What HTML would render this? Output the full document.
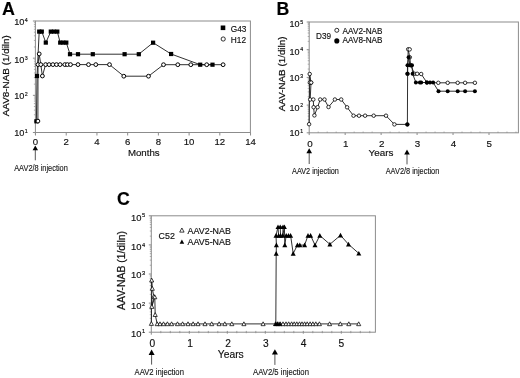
<!DOCTYPE html>
<html><head><meta charset="utf-8"><style>
html,body{margin:0;padding:0;background:#fff;}
body{width:520px;height:378px;overflow:hidden;}
svg{display:block;filter:blur(0.35px);font-family:"Liberation Sans",sans-serif;}
text{stroke:#111;stroke-width:0.16px;}
text.r{stroke-width:0.22px;}
text.s{stroke-width:0.13px;}
</style></head><body>
<svg width="520" height="378" viewBox="0 0 520 378">
<rect width="520" height="378" fill="#fff"/>
<text x="1.90" y="14.90" font-size="17.9" text-anchor="start" font-weight="bold" fill="#000" >A</text>
<rect x="35.40" y="21.00" width="215.00" height="111.50" fill="none" stroke="#8c8c8c" stroke-width="1"/>
<line x1="35.40" y1="132.50" x2="35.40" y2="135.00" stroke="#8c8c8c" stroke-width="1.0"/>
<line x1="32.90" y1="132.50" x2="35.40" y2="132.50" stroke="#8c8c8c" stroke-width="1.0"/>
<line x1="33.90" y1="121.31" x2="35.40" y2="121.31" stroke="#8c8c8c" stroke-width="0.7"/>
<line x1="33.90" y1="114.77" x2="35.40" y2="114.77" stroke="#8c8c8c" stroke-width="0.7"/>
<line x1="33.90" y1="110.12" x2="35.40" y2="110.12" stroke="#8c8c8c" stroke-width="0.7"/>
<line x1="33.90" y1="106.52" x2="35.40" y2="106.52" stroke="#8c8c8c" stroke-width="0.7"/>
<line x1="33.90" y1="103.58" x2="35.40" y2="103.58" stroke="#8c8c8c" stroke-width="0.7"/>
<line x1="33.90" y1="101.09" x2="35.40" y2="101.09" stroke="#8c8c8c" stroke-width="0.7"/>
<line x1="33.90" y1="98.94" x2="35.40" y2="98.94" stroke="#8c8c8c" stroke-width="0.7"/>
<line x1="33.90" y1="97.03" x2="35.40" y2="97.03" stroke="#8c8c8c" stroke-width="0.7"/>
<line x1="32.90" y1="95.33" x2="35.40" y2="95.33" stroke="#8c8c8c" stroke-width="1.0"/>
<line x1="33.90" y1="84.15" x2="35.40" y2="84.15" stroke="#8c8c8c" stroke-width="0.7"/>
<line x1="33.90" y1="77.60" x2="35.40" y2="77.60" stroke="#8c8c8c" stroke-width="0.7"/>
<line x1="33.90" y1="72.96" x2="35.40" y2="72.96" stroke="#8c8c8c" stroke-width="0.7"/>
<line x1="33.90" y1="69.35" x2="35.40" y2="69.35" stroke="#8c8c8c" stroke-width="0.7"/>
<line x1="33.90" y1="66.41" x2="35.40" y2="66.41" stroke="#8c8c8c" stroke-width="0.7"/>
<line x1="33.90" y1="63.92" x2="35.40" y2="63.92" stroke="#8c8c8c" stroke-width="0.7"/>
<line x1="33.90" y1="61.77" x2="35.40" y2="61.77" stroke="#8c8c8c" stroke-width="0.7"/>
<line x1="33.90" y1="59.87" x2="35.40" y2="59.87" stroke="#8c8c8c" stroke-width="0.7"/>
<line x1="32.90" y1="58.17" x2="35.40" y2="58.17" stroke="#8c8c8c" stroke-width="1.0"/>
<line x1="33.90" y1="46.98" x2="35.40" y2="46.98" stroke="#8c8c8c" stroke-width="0.7"/>
<line x1="33.90" y1="40.43" x2="35.40" y2="40.43" stroke="#8c8c8c" stroke-width="0.7"/>
<line x1="33.90" y1="35.79" x2="35.40" y2="35.79" stroke="#8c8c8c" stroke-width="0.7"/>
<line x1="33.90" y1="32.19" x2="35.40" y2="32.19" stroke="#8c8c8c" stroke-width="0.7"/>
<line x1="33.90" y1="29.25" x2="35.40" y2="29.25" stroke="#8c8c8c" stroke-width="0.7"/>
<line x1="33.90" y1="26.76" x2="35.40" y2="26.76" stroke="#8c8c8c" stroke-width="0.7"/>
<line x1="33.90" y1="24.60" x2="35.40" y2="24.60" stroke="#8c8c8c" stroke-width="0.7"/>
<line x1="33.90" y1="22.70" x2="35.40" y2="22.70" stroke="#8c8c8c" stroke-width="0.7"/>
<line x1="32.90" y1="21.00" x2="35.40" y2="21.00" stroke="#8c8c8c" stroke-width="1.0"/>
<line x1="35.50" y1="132.50" x2="35.50" y2="135.50" stroke="#8c8c8c" stroke-width="1.0"/>
<text x="35.50" y="145.30" font-size="9.6" text-anchor="middle" font-weight="normal" fill="#111" >0</text>
<line x1="66.22" y1="132.50" x2="66.22" y2="135.50" stroke="#8c8c8c" stroke-width="1.0"/>
<text x="66.22" y="145.30" font-size="9.6" text-anchor="middle" font-weight="normal" fill="#111" >2</text>
<line x1="96.94" y1="132.50" x2="96.94" y2="135.50" stroke="#8c8c8c" stroke-width="1.0"/>
<text x="96.94" y="145.30" font-size="9.6" text-anchor="middle" font-weight="normal" fill="#111" >4</text>
<line x1="127.66" y1="132.50" x2="127.66" y2="135.50" stroke="#8c8c8c" stroke-width="1.0"/>
<text x="127.66" y="145.30" font-size="9.6" text-anchor="middle" font-weight="normal" fill="#111" >6</text>
<line x1="158.38" y1="132.50" x2="158.38" y2="135.50" stroke="#8c8c8c" stroke-width="1.0"/>
<text x="158.38" y="145.30" font-size="9.6" text-anchor="middle" font-weight="normal" fill="#111" >8</text>
<line x1="189.10" y1="132.50" x2="189.10" y2="135.50" stroke="#8c8c8c" stroke-width="1.0"/>
<text x="189.10" y="145.30" font-size="9.6" text-anchor="middle" font-weight="normal" fill="#111" >10</text>
<line x1="219.82" y1="132.50" x2="219.82" y2="135.50" stroke="#8c8c8c" stroke-width="1.0"/>
<text x="219.82" y="145.30" font-size="9.6" text-anchor="middle" font-weight="normal" fill="#111" >12</text>
<line x1="250.54" y1="132.50" x2="250.54" y2="135.50" stroke="#8c8c8c" stroke-width="1.0"/>
<text x="250.54" y="145.30" font-size="9.6" text-anchor="middle" font-weight="normal" fill="#111" >14</text>
<text x="24.36" y="136.19" font-size="9.2" text-anchor="end" fill="#111">10</text>
<text x="27.77" y="132.70" font-size="5.3" text-anchor="end" fill="#111">1</text>
<text x="24.36" y="99.34" font-size="9.2" text-anchor="end" fill="#111">10</text>
<text x="27.77" y="95.85" font-size="5.3" text-anchor="end" fill="#111">2</text>
<text x="24.36" y="63.49" font-size="9.2" text-anchor="end" fill="#111">10</text>
<text x="27.77" y="60.00" font-size="5.3" text-anchor="end" fill="#111">3</text>
<text x="24.36" y="25.14" font-size="9.2" text-anchor="end" fill="#111">10</text>
<text x="27.77" y="21.65" font-size="5.3" text-anchor="end" fill="#111">4</text>
<text x="143.80" y="156.00" font-size="9.7" text-anchor="middle" font-weight="normal" fill="#111" >Months</text>
<text transform="translate(9.0,75.7) rotate(-90)" class="r" font-size="9.9" text-anchor="middle" fill="#111">AAV8-NAB (1/diln)</text>
<line x1="35.30" y1="149.40" x2="35.30" y2="160.30" stroke="#555" stroke-width="1.0"/>
<polygon points="35.30,145.40 38.00,150.20 32.60,150.20" fill="#000"/>
<text transform="translate(41.00,170.60) scale(0.89,1)" class="s" font-size="8.31" text-anchor="middle" fill="#1a1a1a">AAV2/8 injection</text>
<polyline points="36.40,121.30 37.00,76.00 39.20,31.60 41.80,31.60 45.80,42.60 50.80,31.60 54.00,31.60 57.30,31.60 60.20,42.60 63.30,42.60 66.30,42.60 70.00,54.20 78.00,54.20 92.80,54.20 124.60,54.20 138.80,54.20 153.10,42.70 171.10,54.00 200.20,64.70 212.50,64.70" fill="none" stroke="#1a1a1a" stroke-width="0.9" stroke-linejoin="round"/>
<polyline points="37.90,121.10 38.00,64.60 39.20,53.90 40.80,64.60 42.40,76.00 45.60,64.60 49.10,64.60 52.90,64.60 56.50,64.60 60.10,64.60 64.80,64.60 67.40,64.60 70.50,64.60 78.00,64.60 88.50,64.60 95.80,64.60 109.50,64.60 123.80,76.20 148.50,76.20 163.50,64.70 177.80,64.70 190.80,64.70 206.70,64.70 223.10,64.70" fill="none" stroke="#1a1a1a" stroke-width="0.9" stroke-linejoin="round"/>
<rect x="34.30" y="119.20" width="4.2" height="4.2" fill="#000"/>
<rect x="34.90" y="73.90" width="4.2" height="4.2" fill="#000"/>
<rect x="37.10" y="29.50" width="4.2" height="4.2" fill="#000"/>
<rect x="39.70" y="29.50" width="4.2" height="4.2" fill="#000"/>
<rect x="43.70" y="40.50" width="4.2" height="4.2" fill="#000"/>
<rect x="48.70" y="29.50" width="4.2" height="4.2" fill="#000"/>
<rect x="51.90" y="29.50" width="4.2" height="4.2" fill="#000"/>
<rect x="55.20" y="29.50" width="4.2" height="4.2" fill="#000"/>
<rect x="58.10" y="40.50" width="4.2" height="4.2" fill="#000"/>
<rect x="61.20" y="40.50" width="4.2" height="4.2" fill="#000"/>
<rect x="64.20" y="40.50" width="4.2" height="4.2" fill="#000"/>
<rect x="67.90" y="52.10" width="4.2" height="4.2" fill="#000"/>
<rect x="75.90" y="52.10" width="4.2" height="4.2" fill="#000"/>
<rect x="90.70" y="52.10" width="4.2" height="4.2" fill="#000"/>
<rect x="122.50" y="52.10" width="4.2" height="4.2" fill="#000"/>
<rect x="136.70" y="52.10" width="4.2" height="4.2" fill="#000"/>
<rect x="151.00" y="40.60" width="4.2" height="4.2" fill="#000"/>
<rect x="169.00" y="51.90" width="4.2" height="4.2" fill="#000"/>
<rect x="198.10" y="62.60" width="4.2" height="4.2" fill="#000"/>
<rect x="210.40" y="62.60" width="4.2" height="4.2" fill="#000"/>
<circle cx="37.90" cy="121.10" r="1.9" fill="#fff" stroke="#000" stroke-width="1.0"/>
<circle cx="38.00" cy="64.60" r="1.9" fill="#fff" stroke="#000" stroke-width="1.0"/>
<circle cx="39.20" cy="53.90" r="1.9" fill="#fff" stroke="#000" stroke-width="1.0"/>
<circle cx="40.80" cy="64.60" r="1.9" fill="#fff" stroke="#000" stroke-width="1.0"/>
<circle cx="42.40" cy="76.00" r="1.9" fill="#fff" stroke="#000" stroke-width="1.0"/>
<circle cx="45.60" cy="64.60" r="1.9" fill="#fff" stroke="#000" stroke-width="1.0"/>
<circle cx="49.10" cy="64.60" r="1.9" fill="#fff" stroke="#000" stroke-width="1.0"/>
<circle cx="52.90" cy="64.60" r="1.9" fill="#fff" stroke="#000" stroke-width="1.0"/>
<circle cx="56.50" cy="64.60" r="1.9" fill="#fff" stroke="#000" stroke-width="1.0"/>
<circle cx="60.10" cy="64.60" r="1.9" fill="#fff" stroke="#000" stroke-width="1.0"/>
<circle cx="64.80" cy="64.60" r="1.9" fill="#fff" stroke="#000" stroke-width="1.0"/>
<circle cx="67.40" cy="64.60" r="1.9" fill="#fff" stroke="#000" stroke-width="1.0"/>
<circle cx="70.50" cy="64.60" r="1.9" fill="#fff" stroke="#000" stroke-width="1.0"/>
<circle cx="78.00" cy="64.60" r="1.9" fill="#fff" stroke="#000" stroke-width="1.0"/>
<circle cx="88.50" cy="64.60" r="1.9" fill="#fff" stroke="#000" stroke-width="1.0"/>
<circle cx="95.80" cy="64.60" r="1.9" fill="#fff" stroke="#000" stroke-width="1.0"/>
<circle cx="109.50" cy="64.60" r="1.9" fill="#fff" stroke="#000" stroke-width="1.0"/>
<circle cx="123.80" cy="76.20" r="1.9" fill="#fff" stroke="#000" stroke-width="1.0"/>
<circle cx="148.50" cy="76.20" r="1.9" fill="#fff" stroke="#000" stroke-width="1.0"/>
<circle cx="163.50" cy="64.70" r="1.9" fill="#fff" stroke="#000" stroke-width="1.0"/>
<circle cx="177.80" cy="64.70" r="1.9" fill="#fff" stroke="#000" stroke-width="1.0"/>
<circle cx="190.80" cy="64.70" r="1.9" fill="#fff" stroke="#000" stroke-width="1.0"/>
<circle cx="206.70" cy="64.70" r="1.9" fill="#fff" stroke="#000" stroke-width="1.0"/>
<circle cx="223.10" cy="64.70" r="1.9" fill="#fff" stroke="#000" stroke-width="1.0"/>
<rect x="220.70" y="25.50" width="4.6" height="4.6" fill="#000"/>
<text transform="translate(230.80,31.90) scale(0.95,1)" font-size="8.74" fill="#111">G43</text>
<circle cx="223.20" cy="39.00" r="2.1" fill="#fff" stroke="#000" stroke-width="0.8"/>
<text transform="translate(230.80,43.40) scale(0.95,1)" font-size="8.74" fill="#111">H12</text>
<text x="276.50" y="14.90" font-size="17.7" text-anchor="start" font-weight="bold" fill="#000" >B</text>
<rect x="309.20" y="22.00" width="209.20" height="110.80" fill="none" stroke="#8c8c8c" stroke-width="1"/>
<line x1="309.20" y1="132.80" x2="309.20" y2="135.10" stroke="#8c8c8c" stroke-width="1.0"/>
<line x1="306.70" y1="132.80" x2="309.20" y2="132.80" stroke="#8c8c8c" stroke-width="1.0"/>
<line x1="307.70" y1="124.46" x2="309.20" y2="124.46" stroke="#8c8c8c" stroke-width="0.7"/>
<line x1="307.70" y1="119.58" x2="309.20" y2="119.58" stroke="#8c8c8c" stroke-width="0.7"/>
<line x1="307.70" y1="116.12" x2="309.20" y2="116.12" stroke="#8c8c8c" stroke-width="0.7"/>
<line x1="307.70" y1="113.44" x2="309.20" y2="113.44" stroke="#8c8c8c" stroke-width="0.7"/>
<line x1="307.70" y1="111.25" x2="309.20" y2="111.25" stroke="#8c8c8c" stroke-width="0.7"/>
<line x1="307.70" y1="109.39" x2="309.20" y2="109.39" stroke="#8c8c8c" stroke-width="0.7"/>
<line x1="307.70" y1="107.78" x2="309.20" y2="107.78" stroke="#8c8c8c" stroke-width="0.7"/>
<line x1="307.70" y1="106.37" x2="309.20" y2="106.37" stroke="#8c8c8c" stroke-width="0.7"/>
<line x1="306.70" y1="105.10" x2="309.20" y2="105.10" stroke="#8c8c8c" stroke-width="1.0"/>
<line x1="307.70" y1="96.76" x2="309.20" y2="96.76" stroke="#8c8c8c" stroke-width="0.7"/>
<line x1="307.70" y1="91.88" x2="309.20" y2="91.88" stroke="#8c8c8c" stroke-width="0.7"/>
<line x1="307.70" y1="88.42" x2="309.20" y2="88.42" stroke="#8c8c8c" stroke-width="0.7"/>
<line x1="307.70" y1="85.74" x2="309.20" y2="85.74" stroke="#8c8c8c" stroke-width="0.7"/>
<line x1="307.70" y1="83.55" x2="309.20" y2="83.55" stroke="#8c8c8c" stroke-width="0.7"/>
<line x1="307.70" y1="81.69" x2="309.20" y2="81.69" stroke="#8c8c8c" stroke-width="0.7"/>
<line x1="307.70" y1="80.08" x2="309.20" y2="80.08" stroke="#8c8c8c" stroke-width="0.7"/>
<line x1="307.70" y1="78.67" x2="309.20" y2="78.67" stroke="#8c8c8c" stroke-width="0.7"/>
<line x1="306.70" y1="77.40" x2="309.20" y2="77.40" stroke="#8c8c8c" stroke-width="1.0"/>
<line x1="307.70" y1="69.06" x2="309.20" y2="69.06" stroke="#8c8c8c" stroke-width="0.7"/>
<line x1="307.70" y1="64.18" x2="309.20" y2="64.18" stroke="#8c8c8c" stroke-width="0.7"/>
<line x1="307.70" y1="60.72" x2="309.20" y2="60.72" stroke="#8c8c8c" stroke-width="0.7"/>
<line x1="307.70" y1="58.04" x2="309.20" y2="58.04" stroke="#8c8c8c" stroke-width="0.7"/>
<line x1="307.70" y1="55.85" x2="309.20" y2="55.85" stroke="#8c8c8c" stroke-width="0.7"/>
<line x1="307.70" y1="53.99" x2="309.20" y2="53.99" stroke="#8c8c8c" stroke-width="0.7"/>
<line x1="307.70" y1="52.38" x2="309.20" y2="52.38" stroke="#8c8c8c" stroke-width="0.7"/>
<line x1="307.70" y1="50.97" x2="309.20" y2="50.97" stroke="#8c8c8c" stroke-width="0.7"/>
<line x1="306.70" y1="49.70" x2="309.20" y2="49.70" stroke="#8c8c8c" stroke-width="1.0"/>
<line x1="307.70" y1="41.36" x2="309.20" y2="41.36" stroke="#8c8c8c" stroke-width="0.7"/>
<line x1="307.70" y1="36.48" x2="309.20" y2="36.48" stroke="#8c8c8c" stroke-width="0.7"/>
<line x1="307.70" y1="33.02" x2="309.20" y2="33.02" stroke="#8c8c8c" stroke-width="0.7"/>
<line x1="307.70" y1="30.34" x2="309.20" y2="30.34" stroke="#8c8c8c" stroke-width="0.7"/>
<line x1="307.70" y1="28.15" x2="309.20" y2="28.15" stroke="#8c8c8c" stroke-width="0.7"/>
<line x1="307.70" y1="26.29" x2="309.20" y2="26.29" stroke="#8c8c8c" stroke-width="0.7"/>
<line x1="307.70" y1="24.68" x2="309.20" y2="24.68" stroke="#8c8c8c" stroke-width="0.7"/>
<line x1="307.70" y1="23.27" x2="309.20" y2="23.27" stroke="#8c8c8c" stroke-width="0.7"/>
<line x1="306.70" y1="22.00" x2="309.20" y2="22.00" stroke="#8c8c8c" stroke-width="1.0"/>
<line x1="318.19" y1="131.60" x2="318.19" y2="132.80" stroke="#8c8c8c" stroke-width="0.8"/>
<line x1="327.18" y1="131.60" x2="327.18" y2="132.80" stroke="#8c8c8c" stroke-width="0.8"/>
<line x1="336.17" y1="131.60" x2="336.17" y2="132.80" stroke="#8c8c8c" stroke-width="0.8"/>
<line x1="345.16" y1="132.80" x2="345.16" y2="135.00" stroke="#8c8c8c" stroke-width="1.0"/>
<line x1="354.15" y1="131.60" x2="354.15" y2="132.80" stroke="#8c8c8c" stroke-width="0.8"/>
<line x1="363.14" y1="131.60" x2="363.14" y2="132.80" stroke="#8c8c8c" stroke-width="0.8"/>
<line x1="372.13" y1="131.60" x2="372.13" y2="132.80" stroke="#8c8c8c" stroke-width="0.8"/>
<line x1="381.12" y1="132.80" x2="381.12" y2="135.00" stroke="#8c8c8c" stroke-width="1.0"/>
<line x1="390.11" y1="131.60" x2="390.11" y2="132.80" stroke="#8c8c8c" stroke-width="0.8"/>
<line x1="399.10" y1="131.60" x2="399.10" y2="132.80" stroke="#8c8c8c" stroke-width="0.8"/>
<line x1="408.09" y1="131.60" x2="408.09" y2="132.80" stroke="#8c8c8c" stroke-width="0.8"/>
<line x1="417.08" y1="132.80" x2="417.08" y2="135.00" stroke="#8c8c8c" stroke-width="1.0"/>
<line x1="426.07" y1="131.60" x2="426.07" y2="132.80" stroke="#8c8c8c" stroke-width="0.8"/>
<line x1="435.06" y1="131.60" x2="435.06" y2="132.80" stroke="#8c8c8c" stroke-width="0.8"/>
<line x1="444.05" y1="131.60" x2="444.05" y2="132.80" stroke="#8c8c8c" stroke-width="0.8"/>
<line x1="453.04" y1="132.80" x2="453.04" y2="135.00" stroke="#8c8c8c" stroke-width="1.0"/>
<line x1="462.03" y1="131.60" x2="462.03" y2="132.80" stroke="#8c8c8c" stroke-width="0.8"/>
<line x1="471.02" y1="131.60" x2="471.02" y2="132.80" stroke="#8c8c8c" stroke-width="0.8"/>
<line x1="480.01" y1="131.60" x2="480.01" y2="132.80" stroke="#8c8c8c" stroke-width="0.8"/>
<line x1="489.00" y1="132.80" x2="489.00" y2="135.00" stroke="#8c8c8c" stroke-width="1.0"/>
<line x1="497.99" y1="131.60" x2="497.99" y2="132.80" stroke="#8c8c8c" stroke-width="0.8"/>
<line x1="506.98" y1="131.60" x2="506.98" y2="132.80" stroke="#8c8c8c" stroke-width="0.8"/>
<line x1="515.97" y1="131.60" x2="515.97" y2="132.80" stroke="#8c8c8c" stroke-width="0.8"/>
<text x="310.00" y="146.80" font-size="9.8" text-anchor="middle" font-weight="normal" fill="#111" >0</text>
<text x="345.85" y="146.80" font-size="9.8" text-anchor="middle" font-weight="normal" fill="#111" >1</text>
<text x="381.70" y="146.80" font-size="9.8" text-anchor="middle" font-weight="normal" fill="#111" >2</text>
<text x="417.55" y="146.80" font-size="9.8" text-anchor="middle" font-weight="normal" fill="#111" >3</text>
<text x="453.40" y="146.80" font-size="9.8" text-anchor="middle" font-weight="normal" fill="#111" >4</text>
<text x="489.25" y="146.80" font-size="9.8" text-anchor="middle" font-weight="normal" fill="#111" >5</text>
<text x="299.55" y="136.42" font-size="9.0" text-anchor="end" fill="#111">10</text>
<text x="303.16" y="133.00" font-size="5.2" text-anchor="end" fill="#111">1</text>
<text x="299.55" y="110.62" font-size="9.0" text-anchor="end" fill="#111">10</text>
<text x="303.16" y="107.20" font-size="5.2" text-anchor="end" fill="#111">2</text>
<text x="299.55" y="81.12" font-size="9.0" text-anchor="end" fill="#111">10</text>
<text x="303.16" y="77.70" font-size="5.2" text-anchor="end" fill="#111">3</text>
<text x="299.55" y="54.72" font-size="9.0" text-anchor="end" fill="#111">10</text>
<text x="303.16" y="51.30" font-size="5.2" text-anchor="end" fill="#111">4</text>
<text x="299.55" y="27.12" font-size="9.0" text-anchor="end" fill="#111">10</text>
<text x="303.16" y="23.70" font-size="5.2" text-anchor="end" fill="#111">5</text>
<text x="381.00" y="155.80" font-size="9.9" text-anchor="middle" font-weight="normal" fill="#111" >Years</text>
<text transform="translate(284.6,73.9) rotate(-90)" class="r" font-size="9.85" text-anchor="middle" fill="#111">AAV-NAB (1/diln)</text>
<text transform="translate(316.00,38.80) scale(0.95,1)" font-size="8.63" fill="#111">D39</text>
<circle cx="336.80" cy="30.30" r="2.0" fill="#fff" stroke="#000" stroke-width="0.8"/>
<text transform="translate(342.60,34.20) scale(0.95,1)" font-size="8.63" fill="#111">AAV2-NAB</text>
<circle cx="336.80" cy="40.90" r="2.55" fill="#000"/>
<text transform="translate(342.60,42.80) scale(0.95,1)" font-size="8.63" fill="#111">AAV8-NAB</text>
<line x1="309.20" y1="152.30" x2="309.20" y2="164.00" stroke="#555" stroke-width="1.0"/>
<polygon points="309.20,148.30 312.00,153.30 306.40,153.30" fill="#000"/>
<text transform="translate(315.50,174.00) scale(0.89,1)" class="s" font-size="8.20" text-anchor="middle" fill="#1a1a1a">AAV2 injection</text>
<line x1="407.00" y1="153.50" x2="407.00" y2="164.40" stroke="#555" stroke-width="1.0"/>
<polygon points="407.00,149.50 409.80,154.50 404.20,154.50" fill="#000"/>
<text transform="translate(412.50,174.10) scale(0.89,1)" class="s" font-size="8.31" text-anchor="middle" fill="#1a1a1a">AAV2/8 injection</text>
<polyline points="309.10,124.20 309.70,74.00 311.00,82.60 310.20,99.50 313.30,99.50 313.60,107.20 314.40,115.40 317.60,107.20 320.20,99.50 324.50,99.50 328.50,107.00 334.90,99.50 341.20,99.50 347.10,107.30 353.50,115.70 359.00,115.70 365.10,115.70 373.70,115.70 386.00,115.70 394.40,124.40 407.40,124.40 407.60,73.80 408.20,49.30 409.80,57.30 410.60,65.20 414.60,73.80 417.20,73.80 421.20,74.00 426.90,82.60 438.30,82.80 447.70,82.80 457.70,82.80 465.10,82.80 474.90,82.80" fill="none" stroke="#1a1a1a" stroke-width="0.9" stroke-linejoin="round"/>
<line x1="313.60" y1="107.20" x2="317.60" y2="107.20" stroke="#1a1a1a" stroke-width="0.9"/>
<polyline points="407.40,73.80 407.50,65.20 408.60,57.30 410.00,65.20 412.00,65.20 412.60,73.80 415.90,82.50 419.90,82.50 421.20,82.50 426.90,82.50 430.00,82.50 433.10,82.50 438.50,91.20 447.70,91.20 457.70,91.20 465.10,91.20 474.90,91.20" fill="none" stroke="#1a1a1a" stroke-width="0.9" stroke-linejoin="round"/>
<circle cx="309.10" cy="124.20" r="1.75" fill="#fff" stroke="#000" stroke-width="0.8"/>
<circle cx="309.70" cy="74.00" r="1.75" fill="#fff" stroke="#000" stroke-width="0.8"/>
<circle cx="311.00" cy="82.60" r="1.75" fill="#fff" stroke="#000" stroke-width="0.8"/>
<circle cx="310.20" cy="99.50" r="1.75" fill="#fff" stroke="#000" stroke-width="0.8"/>
<circle cx="313.30" cy="99.50" r="1.75" fill="#fff" stroke="#000" stroke-width="0.8"/>
<circle cx="313.60" cy="107.20" r="1.75" fill="#fff" stroke="#000" stroke-width="0.8"/>
<circle cx="314.40" cy="115.40" r="1.75" fill="#fff" stroke="#000" stroke-width="0.8"/>
<circle cx="317.60" cy="107.20" r="1.75" fill="#fff" stroke="#000" stroke-width="0.8"/>
<circle cx="320.20" cy="99.50" r="1.75" fill="#fff" stroke="#000" stroke-width="0.8"/>
<circle cx="324.50" cy="99.50" r="1.75" fill="#fff" stroke="#000" stroke-width="0.8"/>
<circle cx="328.50" cy="107.00" r="1.75" fill="#fff" stroke="#000" stroke-width="0.8"/>
<circle cx="334.90" cy="99.50" r="1.75" fill="#fff" stroke="#000" stroke-width="0.8"/>
<circle cx="341.20" cy="99.50" r="1.75" fill="#fff" stroke="#000" stroke-width="0.8"/>
<circle cx="347.10" cy="107.30" r="1.75" fill="#fff" stroke="#000" stroke-width="0.8"/>
<circle cx="353.50" cy="115.70" r="1.75" fill="#fff" stroke="#000" stroke-width="0.8"/>
<circle cx="359.00" cy="115.70" r="1.75" fill="#fff" stroke="#000" stroke-width="0.8"/>
<circle cx="365.10" cy="115.70" r="1.75" fill="#fff" stroke="#000" stroke-width="0.8"/>
<circle cx="373.70" cy="115.70" r="1.75" fill="#fff" stroke="#000" stroke-width="0.8"/>
<circle cx="386.00" cy="115.70" r="1.75" fill="#fff" stroke="#000" stroke-width="0.8"/>
<circle cx="394.40" cy="124.40" r="1.75" fill="#fff" stroke="#000" stroke-width="0.8"/>
<circle cx="407.40" cy="124.40" r="1.75" fill="#fff" stroke="#000" stroke-width="0.8"/>
<circle cx="407.60" cy="73.80" r="1.75" fill="#fff" stroke="#000" stroke-width="0.8"/>
<circle cx="408.20" cy="49.30" r="1.75" fill="#fff" stroke="#000" stroke-width="0.8"/>
<circle cx="409.80" cy="57.30" r="1.75" fill="#fff" stroke="#000" stroke-width="0.8"/>
<circle cx="410.60" cy="65.20" r="1.75" fill="#fff" stroke="#000" stroke-width="0.8"/>
<circle cx="414.60" cy="73.80" r="1.75" fill="#fff" stroke="#000" stroke-width="0.8"/>
<circle cx="417.20" cy="73.80" r="1.75" fill="#fff" stroke="#000" stroke-width="0.8"/>
<circle cx="421.20" cy="74.00" r="1.75" fill="#fff" stroke="#000" stroke-width="0.8"/>
<circle cx="426.90" cy="82.60" r="1.75" fill="#fff" stroke="#000" stroke-width="0.8"/>
<circle cx="438.30" cy="82.80" r="1.75" fill="#fff" stroke="#000" stroke-width="0.8"/>
<circle cx="447.70" cy="82.80" r="1.75" fill="#fff" stroke="#000" stroke-width="0.8"/>
<circle cx="457.70" cy="82.80" r="1.75" fill="#fff" stroke="#000" stroke-width="0.8"/>
<circle cx="465.10" cy="82.80" r="1.75" fill="#fff" stroke="#000" stroke-width="0.8"/>
<circle cx="474.90" cy="82.80" r="1.75" fill="#fff" stroke="#000" stroke-width="0.8"/>
<circle cx="409.70" cy="49.40" r="1.75" fill="#fff" stroke="#000" stroke-width="0.8"/>
<circle cx="309.90" cy="82.60" r="1.75" fill="#fff" stroke="#000" stroke-width="0.8"/>
<circle cx="311.20" cy="82.60" r="1.75" fill="#fff" stroke="#000" stroke-width="0.8"/>
<circle cx="407.30" cy="124.40" r="2.0" fill="#000"/>
<circle cx="407.40" cy="73.80" r="2.0" fill="#000"/>
<circle cx="407.50" cy="65.20" r="2.0" fill="#000"/>
<circle cx="408.60" cy="57.30" r="2.0" fill="#000"/>
<circle cx="410.00" cy="65.20" r="2.0" fill="#000"/>
<circle cx="412.00" cy="65.20" r="2.0" fill="#000"/>
<circle cx="412.60" cy="73.80" r="2.0" fill="#000"/>
<circle cx="415.90" cy="82.50" r="2.0" fill="#000"/>
<circle cx="419.90" cy="82.50" r="2.0" fill="#000"/>
<circle cx="421.20" cy="82.50" r="2.0" fill="#000"/>
<circle cx="426.90" cy="82.50" r="2.0" fill="#000"/>
<circle cx="430.00" cy="82.50" r="2.0" fill="#000"/>
<circle cx="433.10" cy="82.50" r="2.0" fill="#000"/>
<circle cx="438.50" cy="91.20" r="2.0" fill="#000"/>
<circle cx="447.70" cy="91.20" r="2.0" fill="#000"/>
<circle cx="457.70" cy="91.20" r="2.0" fill="#000"/>
<circle cx="465.10" cy="91.20" r="2.0" fill="#000"/>
<circle cx="474.90" cy="91.20" r="2.0" fill="#000"/>
<text x="117.10" y="204.50" font-size="17.7" text-anchor="start" font-weight="bold" fill="#000" >C</text>
<rect x="151.30" y="215.80" width="224.10" height="116.40" fill="none" stroke="#8c8c8c" stroke-width="1"/>
<line x1="151.30" y1="332.20" x2="151.30" y2="334.70" stroke="#8c8c8c" stroke-width="1.0"/>
<line x1="148.80" y1="332.20" x2="151.30" y2="332.20" stroke="#8c8c8c" stroke-width="1.0"/>
<line x1="149.80" y1="323.44" x2="151.30" y2="323.44" stroke="#8c8c8c" stroke-width="0.7"/>
<line x1="149.80" y1="318.32" x2="151.30" y2="318.32" stroke="#8c8c8c" stroke-width="0.7"/>
<line x1="149.80" y1="314.68" x2="151.30" y2="314.68" stroke="#8c8c8c" stroke-width="0.7"/>
<line x1="149.80" y1="311.86" x2="151.30" y2="311.86" stroke="#8c8c8c" stroke-width="0.7"/>
<line x1="149.80" y1="309.56" x2="151.30" y2="309.56" stroke="#8c8c8c" stroke-width="0.7"/>
<line x1="149.80" y1="307.61" x2="151.30" y2="307.61" stroke="#8c8c8c" stroke-width="0.7"/>
<line x1="149.80" y1="305.92" x2="151.30" y2="305.92" stroke="#8c8c8c" stroke-width="0.7"/>
<line x1="149.80" y1="304.43" x2="151.30" y2="304.43" stroke="#8c8c8c" stroke-width="0.7"/>
<line x1="148.80" y1="303.10" x2="151.30" y2="303.10" stroke="#8c8c8c" stroke-width="1.0"/>
<line x1="149.80" y1="294.34" x2="151.30" y2="294.34" stroke="#8c8c8c" stroke-width="0.7"/>
<line x1="149.80" y1="289.22" x2="151.30" y2="289.22" stroke="#8c8c8c" stroke-width="0.7"/>
<line x1="149.80" y1="285.58" x2="151.30" y2="285.58" stroke="#8c8c8c" stroke-width="0.7"/>
<line x1="149.80" y1="282.76" x2="151.30" y2="282.76" stroke="#8c8c8c" stroke-width="0.7"/>
<line x1="149.80" y1="280.46" x2="151.30" y2="280.46" stroke="#8c8c8c" stroke-width="0.7"/>
<line x1="149.80" y1="278.51" x2="151.30" y2="278.51" stroke="#8c8c8c" stroke-width="0.7"/>
<line x1="149.80" y1="276.82" x2="151.30" y2="276.82" stroke="#8c8c8c" stroke-width="0.7"/>
<line x1="149.80" y1="275.33" x2="151.30" y2="275.33" stroke="#8c8c8c" stroke-width="0.7"/>
<line x1="148.80" y1="274.00" x2="151.30" y2="274.00" stroke="#8c8c8c" stroke-width="1.0"/>
<line x1="149.80" y1="265.24" x2="151.30" y2="265.24" stroke="#8c8c8c" stroke-width="0.7"/>
<line x1="149.80" y1="260.12" x2="151.30" y2="260.12" stroke="#8c8c8c" stroke-width="0.7"/>
<line x1="149.80" y1="256.48" x2="151.30" y2="256.48" stroke="#8c8c8c" stroke-width="0.7"/>
<line x1="149.80" y1="253.66" x2="151.30" y2="253.66" stroke="#8c8c8c" stroke-width="0.7"/>
<line x1="149.80" y1="251.36" x2="151.30" y2="251.36" stroke="#8c8c8c" stroke-width="0.7"/>
<line x1="149.80" y1="249.41" x2="151.30" y2="249.41" stroke="#8c8c8c" stroke-width="0.7"/>
<line x1="149.80" y1="247.72" x2="151.30" y2="247.72" stroke="#8c8c8c" stroke-width="0.7"/>
<line x1="149.80" y1="246.23" x2="151.30" y2="246.23" stroke="#8c8c8c" stroke-width="0.7"/>
<line x1="148.80" y1="244.90" x2="151.30" y2="244.90" stroke="#8c8c8c" stroke-width="1.0"/>
<line x1="149.80" y1="236.14" x2="151.30" y2="236.14" stroke="#8c8c8c" stroke-width="0.7"/>
<line x1="149.80" y1="231.02" x2="151.30" y2="231.02" stroke="#8c8c8c" stroke-width="0.7"/>
<line x1="149.80" y1="227.38" x2="151.30" y2="227.38" stroke="#8c8c8c" stroke-width="0.7"/>
<line x1="149.80" y1="224.56" x2="151.30" y2="224.56" stroke="#8c8c8c" stroke-width="0.7"/>
<line x1="149.80" y1="222.26" x2="151.30" y2="222.26" stroke="#8c8c8c" stroke-width="0.7"/>
<line x1="149.80" y1="220.31" x2="151.30" y2="220.31" stroke="#8c8c8c" stroke-width="0.7"/>
<line x1="149.80" y1="218.62" x2="151.30" y2="218.62" stroke="#8c8c8c" stroke-width="0.7"/>
<line x1="149.80" y1="217.13" x2="151.30" y2="217.13" stroke="#8c8c8c" stroke-width="0.7"/>
<line x1="148.80" y1="215.80" x2="151.30" y2="215.80" stroke="#8c8c8c" stroke-width="1.0"/>
<line x1="160.80" y1="330.90" x2="160.80" y2="333.20" stroke="#8c8c8c" stroke-width="0.8"/>
<line x1="170.30" y1="330.90" x2="170.30" y2="333.20" stroke="#8c8c8c" stroke-width="0.8"/>
<line x1="179.80" y1="330.90" x2="179.80" y2="333.20" stroke="#8c8c8c" stroke-width="0.8"/>
<line x1="189.30" y1="330.90" x2="189.30" y2="333.70" stroke="#8c8c8c" stroke-width="1.0"/>
<line x1="198.80" y1="330.90" x2="198.80" y2="333.20" stroke="#8c8c8c" stroke-width="0.8"/>
<line x1="208.30" y1="330.90" x2="208.30" y2="333.20" stroke="#8c8c8c" stroke-width="0.8"/>
<line x1="217.80" y1="330.90" x2="217.80" y2="333.20" stroke="#8c8c8c" stroke-width="0.8"/>
<line x1="227.30" y1="330.90" x2="227.30" y2="333.70" stroke="#8c8c8c" stroke-width="1.0"/>
<line x1="236.80" y1="330.90" x2="236.80" y2="333.20" stroke="#8c8c8c" stroke-width="0.8"/>
<line x1="246.30" y1="330.90" x2="246.30" y2="333.20" stroke="#8c8c8c" stroke-width="0.8"/>
<line x1="255.80" y1="330.90" x2="255.80" y2="333.20" stroke="#8c8c8c" stroke-width="0.8"/>
<line x1="265.30" y1="330.90" x2="265.30" y2="333.70" stroke="#8c8c8c" stroke-width="1.0"/>
<line x1="274.80" y1="330.90" x2="274.80" y2="333.20" stroke="#8c8c8c" stroke-width="0.8"/>
<line x1="284.30" y1="330.90" x2="284.30" y2="333.20" stroke="#8c8c8c" stroke-width="0.8"/>
<line x1="293.80" y1="330.90" x2="293.80" y2="333.20" stroke="#8c8c8c" stroke-width="0.8"/>
<line x1="303.30" y1="330.90" x2="303.30" y2="333.70" stroke="#8c8c8c" stroke-width="1.0"/>
<line x1="312.80" y1="330.90" x2="312.80" y2="333.20" stroke="#8c8c8c" stroke-width="0.8"/>
<line x1="322.30" y1="330.90" x2="322.30" y2="333.20" stroke="#8c8c8c" stroke-width="0.8"/>
<line x1="331.80" y1="330.90" x2="331.80" y2="333.20" stroke="#8c8c8c" stroke-width="0.8"/>
<line x1="341.30" y1="330.90" x2="341.30" y2="333.70" stroke="#8c8c8c" stroke-width="1.0"/>
<line x1="350.80" y1="330.90" x2="350.80" y2="333.20" stroke="#8c8c8c" stroke-width="0.8"/>
<line x1="360.30" y1="330.90" x2="360.30" y2="333.20" stroke="#8c8c8c" stroke-width="0.8"/>
<line x1="369.80" y1="330.90" x2="369.80" y2="333.20" stroke="#8c8c8c" stroke-width="0.8"/>
<text x="152.40" y="346.70" font-size="10.2" text-anchor="middle" font-weight="normal" fill="#111" >0</text>
<text x="190.20" y="346.70" font-size="10.2" text-anchor="middle" font-weight="normal" fill="#111" >1</text>
<text x="228.00" y="346.70" font-size="10.2" text-anchor="middle" font-weight="normal" fill="#111" >2</text>
<text x="265.80" y="346.70" font-size="10.2" text-anchor="middle" font-weight="normal" fill="#111" >3</text>
<text x="303.60" y="346.70" font-size="10.2" text-anchor="middle" font-weight="normal" fill="#111" >4</text>
<text x="341.40" y="346.70" font-size="10.2" text-anchor="middle" font-weight="normal" fill="#111" >5</text>
<text x="141.47" y="336.57" font-size="9.4" text-anchor="end" fill="#111">10</text>
<text x="145.09" y="333.22" font-size="5.7" text-anchor="end" fill="#111">1</text>
<text x="141.47" y="308.87" font-size="9.4" text-anchor="end" fill="#111">10</text>
<text x="145.09" y="305.52" font-size="5.7" text-anchor="end" fill="#111">2</text>
<text x="141.47" y="277.97" font-size="9.4" text-anchor="end" fill="#111">10</text>
<text x="145.09" y="274.62" font-size="5.7" text-anchor="end" fill="#111">3</text>
<text x="141.47" y="249.87" font-size="9.4" text-anchor="end" fill="#111">10</text>
<text x="145.09" y="246.52" font-size="5.7" text-anchor="end" fill="#111">4</text>
<text x="141.47" y="220.67" font-size="9.4" text-anchor="end" fill="#111">10</text>
<text x="145.09" y="217.32" font-size="5.7" text-anchor="end" fill="#111">5</text>
<text x="230.80" y="358.00" font-size="10.3" text-anchor="middle" font-weight="normal" fill="#111" >Years</text>
<text transform="translate(125.3,270.5) rotate(-90)" class="r" font-size="10.4" text-anchor="middle" fill="#111">AAV-NAB (1/diln)</text>
<text x="158.60" y="238.60" font-size="8.9" text-anchor="start" font-weight="normal" fill="#111" >C52</text>
<polygon points="181.90,227.99 184.10,232.11 179.70,232.11" fill="#fff" stroke="#000" stroke-width="0.75"/>
<text x="187.60" y="233.50" font-size="8.9" text-anchor="start" font-weight="normal" fill="#111" >AAV2-NAB</text>
<polygon points="181.90,239.50 184.20,243.80 179.60,243.80" fill="#000"/>
<text x="187.60" y="245.00" font-size="8.9" text-anchor="start" font-weight="normal" fill="#111" >AAV5-NAB</text>
<line x1="151.60" y1="353.60" x2="151.60" y2="364.60" stroke="#555" stroke-width="1.0"/>
<polygon points="151.60,349.60 154.60,354.90 148.60,354.90" fill="#000"/>
<text transform="translate(159.20,374.80) scale(0.89,1)" class="s" font-size="8.65" text-anchor="middle" fill="#1a1a1a">AAV2 injection</text>
<line x1="274.90" y1="353.20" x2="274.90" y2="364.90" stroke="#555" stroke-width="1.0"/>
<polygon points="274.90,349.20 277.90,354.50 271.90,354.50" fill="#000"/>
<text transform="translate(281.00,375.00) scale(0.89,1)" class="s" font-size="8.65" text-anchor="middle" fill="#1a1a1a">AAV2/5 injection</text>
<polyline points="151.40,323.60 151.70,280.20 152.30,288.50 153.80,296.40 151.80,306.60 154.80,297.00 155.20,314.70 157.20,323.90 160.00,323.90 163.50,323.90 167.40,323.90 171.60,323.90 177.50,323.90 182.60,323.90 188.00,323.90 193.10,323.90 198.00,323.90 205.00,323.90 211.70,323.90 219.10,323.90 224.80,323.90 231.80,323.90 243.90,323.90 263.10,323.90 275.60,323.90 277.80,323.90 280.20,323.90 283.00,323.90 286.00,323.90 288.70,323.90 291.60,323.90 294.20,323.90 296.80,323.90 299.50,323.90 302.00,323.90 304.60,323.90 307.20,323.90 310.10,323.90 312.90,323.90 315.80,323.90 319.40,323.90 329.60,323.90 340.30,323.90 348.80,323.90 358.70,323.90" fill="none" stroke="#1a1a1a" stroke-width="0.9" stroke-linejoin="round"/>
<polyline points="275.80,323.90 276.20,253.60 276.40,245.10 276.00,235.50 278.00,226.90 278.60,235.50 280.60,235.50 280.20,226.90 283.00,226.90 282.80,235.50 284.40,226.90 284.80,245.10 286.20,235.50 288.50,235.50 290.60,235.50 293.20,253.50 297.40,245.10 299.80,245.10 304.60,245.10 308.00,235.50 310.60,235.50 315.00,245.10 319.80,235.50 329.90,244.30 340.50,235.30 348.50,244.30 358.80,253.40" fill="none" stroke="#1a1a1a" stroke-width="0.9" stroke-linejoin="round"/>
<polygon points="151.40,321.52 153.45,325.38 149.35,325.38" fill="#fff" stroke="#000" stroke-width="0.75"/>
<polygon points="151.70,278.12 153.75,281.98 149.65,281.98" fill="#fff" stroke="#000" stroke-width="0.75"/>
<polygon points="152.30,286.42 154.35,290.28 150.25,290.28" fill="#fff" stroke="#000" stroke-width="0.75"/>
<polygon points="153.80,294.32 155.85,298.18 151.75,298.18" fill="#fff" stroke="#000" stroke-width="0.75"/>
<polygon points="151.80,304.52 153.85,308.38 149.75,308.38" fill="#fff" stroke="#000" stroke-width="0.75"/>
<polygon points="154.80,294.92 156.85,298.78 152.75,298.78" fill="#fff" stroke="#000" stroke-width="0.75"/>
<polygon points="155.20,312.62 157.25,316.48 153.15,316.48" fill="#fff" stroke="#000" stroke-width="0.75"/>
<polygon points="157.20,321.82 159.25,325.68 155.15,325.68" fill="#fff" stroke="#000" stroke-width="0.75"/>
<polygon points="160.00,321.82 162.05,325.68 157.95,325.68" fill="#fff" stroke="#000" stroke-width="0.75"/>
<polygon points="163.50,321.82 165.55,325.68 161.45,325.68" fill="#fff" stroke="#000" stroke-width="0.75"/>
<polygon points="167.40,321.82 169.45,325.68 165.35,325.68" fill="#fff" stroke="#000" stroke-width="0.75"/>
<polygon points="171.60,321.82 173.65,325.68 169.55,325.68" fill="#fff" stroke="#000" stroke-width="0.75"/>
<polygon points="177.50,321.82 179.55,325.68 175.45,325.68" fill="#fff" stroke="#000" stroke-width="0.75"/>
<polygon points="182.60,321.82 184.65,325.68 180.55,325.68" fill="#fff" stroke="#000" stroke-width="0.75"/>
<polygon points="188.00,321.82 190.05,325.68 185.95,325.68" fill="#fff" stroke="#000" stroke-width="0.75"/>
<polygon points="193.10,321.82 195.15,325.68 191.05,325.68" fill="#fff" stroke="#000" stroke-width="0.75"/>
<polygon points="198.00,321.82 200.05,325.68 195.95,325.68" fill="#fff" stroke="#000" stroke-width="0.75"/>
<polygon points="205.00,321.82 207.05,325.68 202.95,325.68" fill="#fff" stroke="#000" stroke-width="0.75"/>
<polygon points="211.70,321.82 213.75,325.68 209.65,325.68" fill="#fff" stroke="#000" stroke-width="0.75"/>
<polygon points="219.10,321.82 221.15,325.68 217.05,325.68" fill="#fff" stroke="#000" stroke-width="0.75"/>
<polygon points="224.80,321.82 226.85,325.68 222.75,325.68" fill="#fff" stroke="#000" stroke-width="0.75"/>
<polygon points="231.80,321.82 233.85,325.68 229.75,325.68" fill="#fff" stroke="#000" stroke-width="0.75"/>
<polygon points="243.90,321.82 245.95,325.68 241.85,325.68" fill="#fff" stroke="#000" stroke-width="0.75"/>
<polygon points="263.10,321.82 265.15,325.68 261.05,325.68" fill="#fff" stroke="#000" stroke-width="0.75"/>
<polygon points="275.60,321.82 277.65,325.68 273.55,325.68" fill="#fff" stroke="#000" stroke-width="0.75"/>
<polygon points="277.80,321.82 279.85,325.68 275.75,325.68" fill="#fff" stroke="#000" stroke-width="0.75"/>
<polygon points="280.20,321.82 282.25,325.68 278.15,325.68" fill="#fff" stroke="#000" stroke-width="0.75"/>
<polygon points="283.00,321.82 285.05,325.68 280.95,325.68" fill="#fff" stroke="#000" stroke-width="0.75"/>
<polygon points="286.00,321.82 288.05,325.68 283.95,325.68" fill="#fff" stroke="#000" stroke-width="0.75"/>
<polygon points="288.70,321.82 290.75,325.68 286.65,325.68" fill="#fff" stroke="#000" stroke-width="0.75"/>
<polygon points="291.60,321.82 293.65,325.68 289.55,325.68" fill="#fff" stroke="#000" stroke-width="0.75"/>
<polygon points="294.20,321.82 296.25,325.68 292.15,325.68" fill="#fff" stroke="#000" stroke-width="0.75"/>
<polygon points="296.80,321.82 298.85,325.68 294.75,325.68" fill="#fff" stroke="#000" stroke-width="0.75"/>
<polygon points="299.50,321.82 301.55,325.68 297.45,325.68" fill="#fff" stroke="#000" stroke-width="0.75"/>
<polygon points="302.00,321.82 304.05,325.68 299.95,325.68" fill="#fff" stroke="#000" stroke-width="0.75"/>
<polygon points="304.60,321.82 306.65,325.68 302.55,325.68" fill="#fff" stroke="#000" stroke-width="0.75"/>
<polygon points="307.20,321.82 309.25,325.68 305.15,325.68" fill="#fff" stroke="#000" stroke-width="0.75"/>
<polygon points="310.10,321.82 312.15,325.68 308.05,325.68" fill="#fff" stroke="#000" stroke-width="0.75"/>
<polygon points="312.90,321.82 314.95,325.68 310.85,325.68" fill="#fff" stroke="#000" stroke-width="0.75"/>
<polygon points="315.80,321.82 317.85,325.68 313.75,325.68" fill="#fff" stroke="#000" stroke-width="0.75"/>
<polygon points="319.40,321.82 321.45,325.68 317.35,325.68" fill="#fff" stroke="#000" stroke-width="0.75"/>
<polygon points="329.60,321.82 331.65,325.68 327.55,325.68" fill="#fff" stroke="#000" stroke-width="0.75"/>
<polygon points="340.30,321.82 342.35,325.68 338.25,325.68" fill="#fff" stroke="#000" stroke-width="0.75"/>
<polygon points="348.80,321.82 350.85,325.68 346.75,325.68" fill="#fff" stroke="#000" stroke-width="0.75"/>
<polygon points="358.70,321.82 360.75,325.68 356.65,325.68" fill="#fff" stroke="#000" stroke-width="0.75"/>
<polygon points="275.80,321.42 278.30,326.07 273.30,326.07" fill="#000"/>
<polygon points="276.20,251.12 278.70,255.78 273.70,255.78" fill="#000"/>
<polygon points="276.40,242.62 278.90,247.28 273.90,247.28" fill="#000"/>
<polygon points="276.00,233.02 278.50,237.68 273.50,237.68" fill="#000"/>
<polygon points="278.00,224.42 280.50,229.08 275.50,229.08" fill="#000"/>
<polygon points="278.60,233.02 281.10,237.68 276.10,237.68" fill="#000"/>
<polygon points="280.60,233.02 283.10,237.68 278.10,237.68" fill="#000"/>
<polygon points="280.20,224.42 282.70,229.08 277.70,229.08" fill="#000"/>
<polygon points="283.00,224.42 285.50,229.08 280.50,229.08" fill="#000"/>
<polygon points="282.80,233.02 285.30,237.68 280.30,237.68" fill="#000"/>
<polygon points="284.40,224.42 286.90,229.08 281.90,229.08" fill="#000"/>
<polygon points="284.80,242.62 287.30,247.28 282.30,247.28" fill="#000"/>
<polygon points="286.20,233.02 288.70,237.68 283.70,237.68" fill="#000"/>
<polygon points="288.50,233.02 291.00,237.68 286.00,237.68" fill="#000"/>
<polygon points="290.60,233.02 293.10,237.68 288.10,237.68" fill="#000"/>
<polygon points="293.20,251.02 295.70,255.68 290.70,255.68" fill="#000"/>
<polygon points="297.40,242.62 299.90,247.28 294.90,247.28" fill="#000"/>
<polygon points="299.80,242.62 302.30,247.28 297.30,247.28" fill="#000"/>
<polygon points="304.60,242.62 307.10,247.28 302.10,247.28" fill="#000"/>
<polygon points="308.00,233.02 310.50,237.68 305.50,237.68" fill="#000"/>
<polygon points="310.60,233.02 313.10,237.68 308.10,237.68" fill="#000"/>
<polygon points="315.00,242.62 317.50,247.28 312.50,247.28" fill="#000"/>
<polygon points="319.80,233.02 322.30,237.68 317.30,237.68" fill="#000"/>
<polygon points="329.90,241.82 332.40,246.48 327.40,246.48" fill="#000"/>
<polygon points="340.50,232.82 343.00,237.48 338.00,237.48" fill="#000"/>
<polygon points="348.50,241.82 351.00,246.48 346.00,246.48" fill="#000"/>
<polygon points="358.80,250.92 361.30,255.58 356.30,255.58" fill="#000"/>
<polygon points="277.70,321.60 280.00,325.90 275.40,325.90" fill="#000"/>
<polygon points="279.90,321.69 282.10,325.81 277.70,325.81" fill="#000"/>
</svg>
</body></html>
